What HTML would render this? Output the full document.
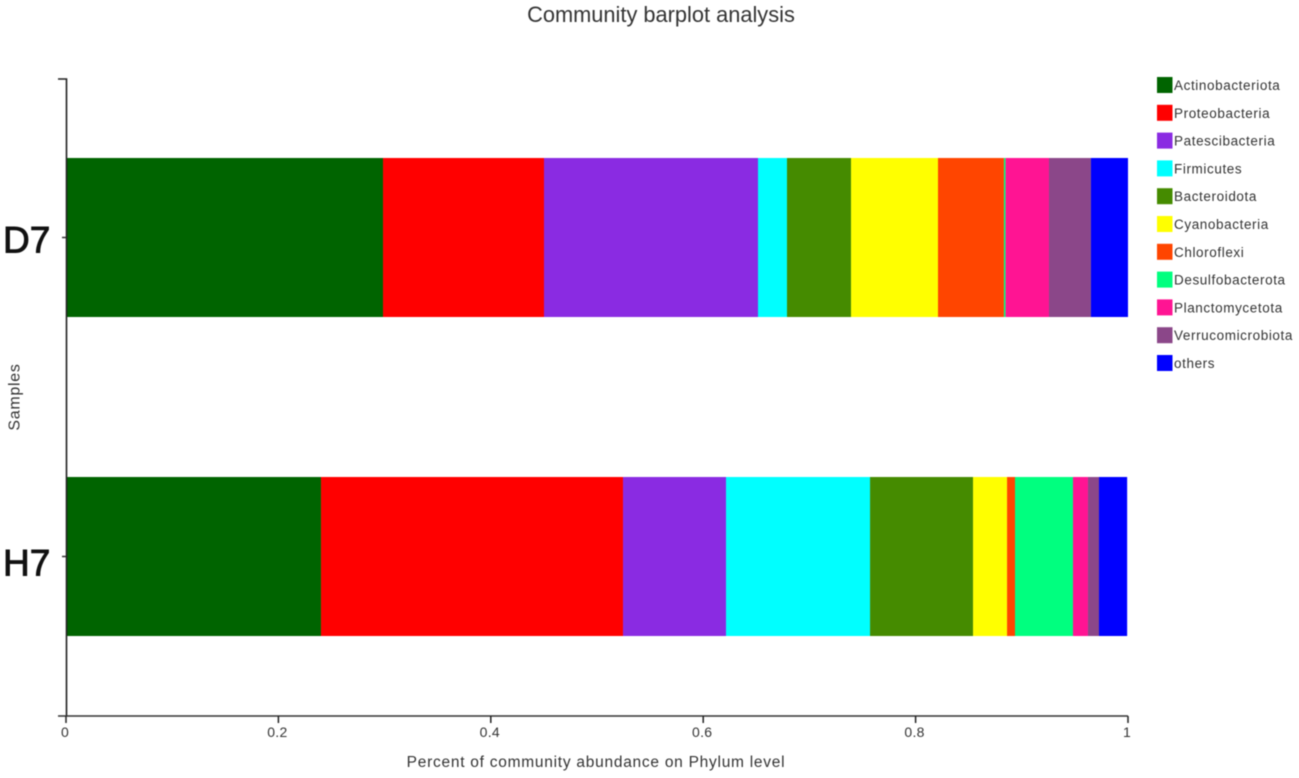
<!DOCTYPE html>
<html>
<head>
<meta charset="utf-8">
<title>Community barplot analysis</title>
<style>
html,body{margin:0;padding:0;background:#fff;width:1299px;height:778px;overflow:hidden}
svg{display:block;filter:blur(0.5px)}
text{font-family:"Liberation Sans",sans-serif;fill:#333}
</style>
</head>
<body>
<svg id="chart" width="1299" height="778" viewBox="0 0 1299 778" xmlns="http://www.w3.org/2000/svg"></svg>
<script>
var samples = ['D7', 'H7'];
var phyla = ['Actinobacteriota','Proteobacteria','Patescibacteria','Firmicutes','Bacteroidota','Cyanobacteria','Chloroflexi','Desulfobacterota','Planctomycetota','Verrucomicrobiota','others'];
var colors = ['#006400','#ff0000','#8a2be2','#00ffff','#458b00','#ffff00','#ff4500','#00ff7f','#ff1493','#8b4789','#0000ff'];
var valuesD7 = [0.2985,0.1516,0.2015,0.0273,0.0603,0.0819,0.0621,0.0015,0.0409,0.0395,0.0349];
var valuesH7 = [0.2401,0.2844,0.0970,0.1356,0.0970,0.0320,0.0075,0.0546,0.0141,0.0104,0.0265];
var xTicks = [0,0.2,0.4,0.6,0.8,1];
var xTickLabels = ['0','0.2','0.4','0.6','0.8','1'];

var svg = document.getElementById('chart');
var NS = 'http://www.w3.org/2000/svg';
function make(tag, attrs, txt){
  var e = document.createElementNS(NS, tag);
  for (var k in attrs) e.setAttribute(k, attrs[k]);
  if (txt !== undefined) e.textContent = txt;
  svg.appendChild(e);
  return e;
}
function xScale(v){ return 66 + v * 1062; }
function bandTop(i){ return 158 + i * 319; }
var bandH = 159;
var series = [valuesD7, valuesH7];

// bars
series.forEach(function(vals, s){
  var acc = 0;
  vals.forEach(function(v, i){
    var r = make('rect', {x:xScale(acc), y:bandTop(s), width:xScale(acc+v)-xScale(acc), height:bandH, fill:colors[i]});
    
    
    acc += v;
  });
});

// axes
var yAxis = make('path', {d:'M58 79H66.5V716', fill:'none', stroke:'#222', 'stroke-width':1.6});


var xAxis = make('line', {x1:58, y1:716, x2:1128, y2:716, stroke:'#333', 'stroke-width':1.6});



// x ticks
xTicks.forEach(function(t, i){
  var x = xScale(t);
  var tick = make('line', {x1:x, y1:716, x2:x, y2:723, stroke:'#222', 'stroke-width':1.5});
  
  
  var lab = make('text', {x:x-1, y:737, 'font-size':14, 'text-anchor':'middle', 'letter-spacing':0.3}, xTickLabels[i]);
  
  
});

// y category ticks and labels
samples.forEach(function(name, s){
  var y = bandTop(s) + bandH / 2;
  var tick = make('line', {x1:62, y1:y, x2:66, y2:y, stroke:'#333', 'stroke-width':1.5});
  
  
  var lab = make('text', {x:3, y:y + 15 + s * 4, 'font-size':37, stroke:'#111', 'stroke-width':0.9, style:'fill:#111'}, name);
  
  
});

// legend
phyla.forEach(function(name, i){
  var cy = 85 + (i * 27.8);
  var sw = make('rect', {x:1157, y:cy-8, width:15.5, height:16, fill:colors[i]});
  
  
  var lab = make('text', {x:1174, y:cy+5, 'font-size':13.5, 'letter-spacing':0.6}, name);
  
  
});

// titles
var title = make('text', {x:661, y:22, 'font-size':21.8, 'text-anchor':'middle'}, 'Community barplot analysis');


var xTitle = make('text', {x:596, y:767, 'font-size':15.5, 'letter-spacing':0.74, 'text-anchor':'middle'}, 'Percent of community abundance on Phylum level');


var yTitle = make('text', {x:0, y:0, 'font-size':16, 'letter-spacing':0.7, 'text-anchor':'middle', transform:'translate(19.5,397) rotate(-90)'}, 'Samples');


</script>
</body>
</html>
